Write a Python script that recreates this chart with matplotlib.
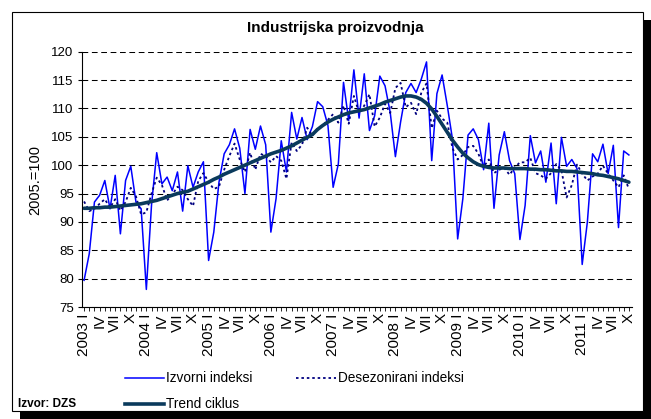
import matplotlib
matplotlib.use('Agg')
import matplotlib.pyplot as plt
from matplotlib.patches import Rectangle
from matplotlib.lines import Line2D

plt.rcParams['font.family'] = ['Liberation Sans', 'DejaVu Sans']

years = [2003, 2004, 2005, 2006, 2007, 2008, 2009, 2010, 2011]
roman = ['I', 'II', 'III', 'IV', 'V', 'VI', 'VII', 'VIII', 'IX', 'X', 'XI', 'XII']

izvorni = [
    79.7, 84.4, 93.5, 94.7, 97.3, 92.3, 98.2, 87.9, 97.3, 99.8, 93.5, 92.3,
    78.1, 93.0, 102.2, 96.7, 97.9, 95.5, 98.8, 91.9, 99.9, 96.1, 98.8, 100.6,
    83.2, 88.2, 97.0, 102.0, 103.6, 106.4, 103.0, 95.0, 106.3, 102.8, 106.9, 103.6,
    88.2, 94.1, 104.3, 98.8, 109.3, 104.6, 108.4, 104.5, 106.8, 111.2, 110.3, 107.0,
    96.1, 100.2, 114.6, 107.9, 116.8, 108.3, 116.1, 106.1, 108.7, 115.7, 114.0, 109.3,
    101.5, 107.6, 112.8, 114.4, 112.8, 115.2, 118.2, 100.8, 112.6, 115.9, 110.5, 104.6,
    87.0, 94.1, 105.3, 106.4, 104.5, 99.2, 107.4, 92.4, 101.8, 105.9, 100.8, 98.5,
    86.9, 92.9, 105.2, 100.4, 102.5, 97.0, 103.9, 93.2, 104.9, 99.8, 101.0, 99.4,
    82.5, 90.0, 102.0, 100.6, 103.7, 98.5, 103.5, 89.0, 102.5, 101.8,
]

desezonirani = [
    93.6, 91.9, 92.3, 93.2, 94.0, 92.5, 94.0, 92.0, 93.5, 96.0, 94.5, 91.3,
    91.7, 95.0, 97.8, 96.5, 93.8, 94.8, 96.2, 95.6, 94.0, 92.8, 97.2, 98.6,
    97.0, 95.8, 96.2, 99.2, 101.6, 103.8, 101.0, 98.8, 102.2, 99.2, 102.0, 101.6,
    100.5, 101.6, 100.8, 97.6, 104.0, 102.5, 103.6, 106.6, 105.2, 106.5, 107.0, 108.0,
    109.0, 107.5, 110.5, 107.3, 112.2, 109.2, 110.5, 112.5, 106.8, 108.4, 110.8, 109.2,
    113.6, 114.5, 110.2, 111.0, 109.0, 112.8, 114.4, 106.5, 109.6, 108.2, 107.5, 103.0,
    101.0, 101.8, 103.2, 103.4, 102.0, 99.7, 101.0, 98.6, 99.2, 99.5, 98.3, 99.6,
    100.5, 100.5, 101.3, 98.6, 98.2, 97.6, 98.6, 100.2, 99.1, 94.3, 96.5, 100.1,
    98.5, 97.3, 98.0, 98.5, 99.9, 98.5, 97.3, 96.1, 98.2, 95.8,
]

trend = [
    92.4, 92.4, 92.5, 92.5, 92.6, 92.6, 92.7, 92.8, 92.9, 93.0, 93.1, 93.2,
    93.4, 93.6, 93.8, 94.1, 94.4, 94.7, 95.0, 95.2, 95.4, 95.8, 96.2, 96.6,
    97.0, 97.5, 97.9, 98.4, 98.8, 99.2, 99.6, 100.0, 100.4, 100.8, 101.2, 101.6,
    102.0, 102.3, 102.6, 103.0, 103.4, 103.9, 104.4, 104.9, 105.4, 106.3, 107.0, 107.6,
    108.1, 108.5, 108.9, 109.2, 109.4, 109.6, 109.8, 110.1, 110.4, 110.7, 111.1, 111.4,
    111.7, 112.0, 112.2, 112.2, 112.0, 111.6, 110.9, 109.9, 108.6, 107.2, 105.8, 104.4,
    103.2, 102.1, 101.3, 100.6, 100.1, 99.8, 99.6, 99.5, 99.5, 99.5, 99.4, 99.4,
    99.4, 99.4, 99.3, 99.3, 99.2, 99.2, 99.1, 99.0, 99.0, 98.9, 98.9, 98.8,
    98.7, 98.6, 98.5, 98.3, 98.2, 98.0, 97.8, 97.6, 97.3, 97.0,
]

n = len(izvorni)
months = list(range(n))
tick_labels = []
for k in months:
    m = k % 12
    if m == 0:
        tick_labels.append(f"{years[k // 12]} {roman[m]}")
    elif m % 3 == 0:
        tick_labels.append(roman[m])
    else:
        tick_labels.append('')

W, H = 651, 419
fig = plt.figure(figsize=(W / 100, H / 100), dpi=100)


def fx(px):
    return px / W


def fy(py):
    return 1 - py / H


# frame with shadow
fig.patches.append(Rectangle((fx(20), fy(419)), fx(651) - fx(20), fy(20) - fy(419),
                             transform=fig.transFigure, facecolor='black', edgecolor='none', zorder=-3))
fig.patches.append(Rectangle((fx(12), fy(411)), fx(643) - fx(12), fy(12) - fy(411),
                             transform=fig.transFigure, facecolor='white', edgecolor='black',
                             linewidth=0.8, zorder=-2))

ax = fig.add_axes([fx(82), fy(307), fx(632) - fx(82), fy(51.7) - fy(307)])
ax.set_facecolor('none')

c_izv = '#0000FF'
c_des = '#000080'
c_tr = '#0A3A5C'
des_style = (0, (1.4, 1.6))

ax.plot(months, izvorni, color=c_izv, lw=1.1, zorder=3)
ax.plot(months, desezonirani, color=c_des, lw=1.3, linestyle=des_style, zorder=4)
ax.plot(months, trend, color=c_tr, lw=2.6, zorder=5, solid_capstyle='round')

ax.set_xlim(-0.4, n - 0.4)
ax.set_ylim(75, 120)
ax.set_yticks(list(range(75, 121, 5)))
ax.yaxis.grid(True, linestyle=(0, (5.5, 3.5)), color='black', lw=0.75)
ax.set_axisbelow(True)

for s in ['top', 'right']:
    ax.spines[s].set_visible(False)
for s in ['left', 'bottom']:
    ax.spines[s].set_linewidth(0.8)
    ax.spines[s].set_zorder(6)

ax.set_xticks(months)
ax.set_xticklabels(tick_labels, rotation=90, fontsize=11, va='top', ha='center')
ax.tick_params(axis='x', direction='out', length=3, width=0.6, pad=1.5)
ax.tick_params(axis='y', direction='out', length=3, width=0.8, pad=3, labelsize=9.5)

fig.text(fx(335), fy(28), 'Industrijska proizvodnja', ha='center', va='center',
         fontsize=11, fontweight='bold')
fig.text(fx(35), fy(180), '2005.=100', rotation=90, ha='center', va='center', fontsize=10.5)

# legend
fig.add_artist(Line2D([fx(125), fx(164)], [fy(378), fy(378)], transform=fig.transFigure,
                      color=c_izv, lw=1.1))
fig.text(fx(166), fy(378), 'Izvorni indeksi', ha='left', va='center', fontsize=9.8)
fig.add_artist(Line2D([fx(296), fx(336)], [fy(378), fy(378)], transform=fig.transFigure,
                      color=c_des, lw=1.3, linestyle=des_style))
fig.text(fx(338), fy(378), 'Desezonirani indeksi', ha='left', va='center', fontsize=9.8)
fig.add_artist(Line2D([fx(125), fx(164)], [fy(404), fy(404)], transform=fig.transFigure,
                      color=c_tr, lw=2.6))
fig.text(fx(166), fy(404), 'Trend ciklus', ha='left', va='center', fontsize=9.8)
fig.text(fx(18), fy(404), 'Izvor: DZS', ha='left', va='center', fontsize=8.5, fontweight='bold')

fig.savefig('out.png', dpi=100)
